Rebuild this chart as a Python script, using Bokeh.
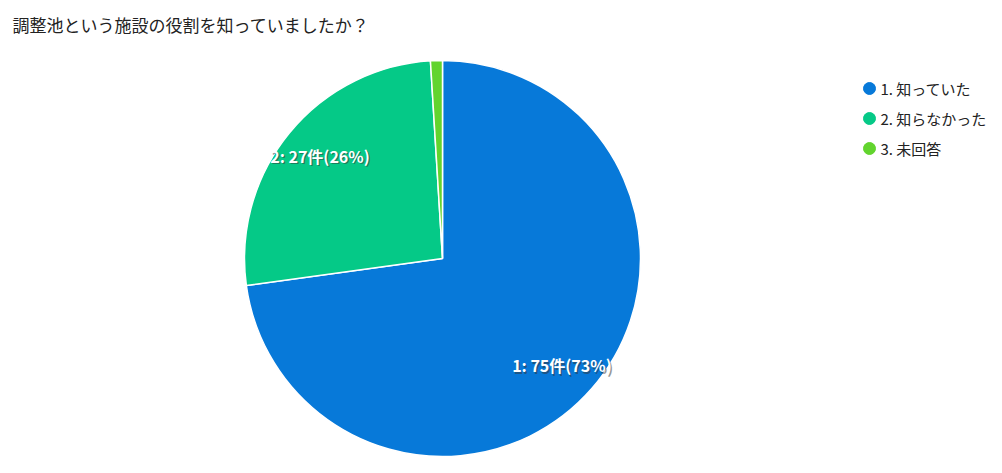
from math import pi

import numpy as np

from bokeh.core.properties import value
from bokeh.embed import file_html
from bokeh.models import ColumnDataSource
from bokeh.plotting import figure
from bokeh.resources import INLINE

# data
title = "調整池という施設の役割を知っていましたか？"
labels = ["1. 知っていた", "2. 知らなかった", "3. 未回答"]
short = ["1", "2", "3"]
counts = [75, 27, 1]
colors = ["#0779d9", "#05c987", "#62d42e"]

W, H = 986, 457
FONT = value("Noto Sans CJK JP")

p = figure(width=W, height=H, x_range=(0, W), y_range=(0, H),
           output_backend="svg", toolbar_location=None, min_border=0)
p.axis.visible = False
p.grid.grid_line_color = None
p.outline_line_color = None

# pie
cx, cy, r = 442, 199, 198
vals = np.array(counts, dtype=float)
frac = vals / vals.sum()
cum = np.concatenate([[0], np.cumsum(frac)])
start = pi / 2 - cum[:-1] * 2 * pi
end = pi / 2 - cum[1:] * 2 * pi
mid = (start + end) / 2
pct = np.round(frac * 100).astype(int)
txt = [f"{s}: {c}件({q}%)" for s, c, q in zip(short, counts, pct)]

src = ColumnDataSource(data=dict(start=start, end=end, color=colors,
                                 lx=cx + 0.8 * r * np.cos(mid),
                                 ly=cy + 0.82 * r * np.sin(mid),
                                 txt=txt))
p.wedge(x=cx, y=cy, radius=r, radius_units="screen", start_angle="start",
        end_angle="end", direction="clock", fill_color="color",
        line_color="white", line_width=1.5, source=src)

# slice labels (only the two big slices), with a soft shadow
big = ColumnDataSource(data={k: v[:2] for k, v in src.data.items()})
p.text(x="lx", y="ly", text="txt", x_offset=1.5, y_offset=1.5, text_color="#333333",
       text_alpha=0.5, text_font=FONT, text_font_style="bold", text_font_size="16px",
       text_align="center", text_baseline="middle", source=big)
p.text(x="lx", y="ly", text="txt", text_color="white", text_font=FONT,
       text_font_style="bold", text_font_size="16px", text_align="center",
       text_baseline="middle", source=big)

# title
p.text(x=[12], y=[433], text=[title], text_color="#222222", text_font=FONT,
       text_font_size="17px", text_baseline="middle")

# legend
ly = [369 - 30 * i for i in range(len(labels))]
p.scatter(x=[869] * len(labels), y=ly, size=12, color=colors)
p.text(x=[880] * len(labels), y=ly, text=labels, text_color="#222222",
       text_font=FONT, text_font_size="15px", text_baseline="middle")

open("out.html", "w").write(file_html(p, INLINE))
